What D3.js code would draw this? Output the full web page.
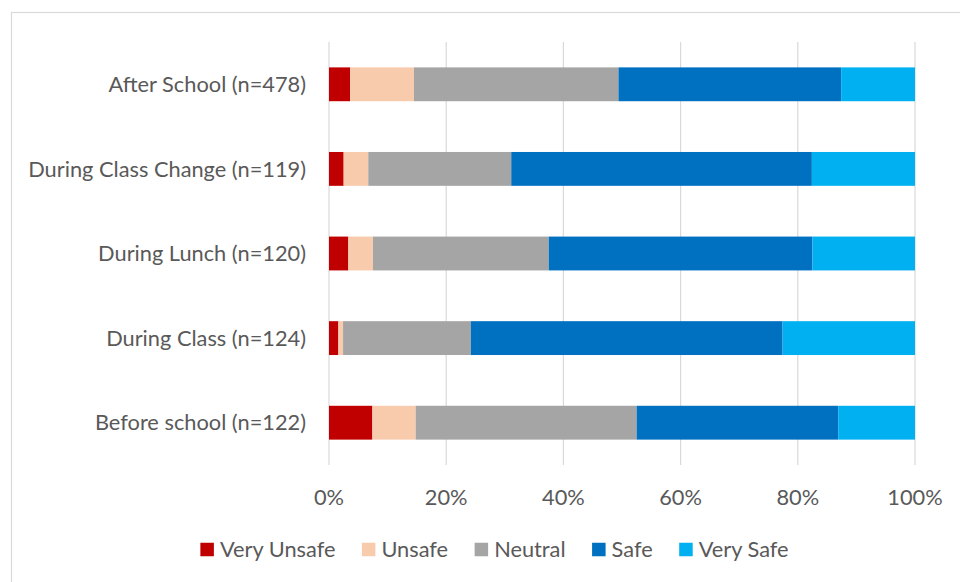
<!DOCTYPE html>
<html>
<head>
<meta charset="utf-8">
<script src="https://cdn.jsdelivr.net/npm/d3@7"></script>
<style>
  body { margin: 0; background: #fff; }
  text { font-family: Lato, "Open Sans", sans-serif; fill: #595959; }
</style>
</head>
<body>
<svg id="chart"></svg>
<script>
// categories, top to bottom
const categories = [
  'After School (n=478)',
  'During Class Change (n=119)',
  'During Lunch (n=120)',
  'During Class (n=124)',
  'Before school (n=122)'
];

const seriesNames = ['Very Unsafe', 'Unsafe', 'Neutral', 'Safe', 'Very Safe'];

// percent of respondents, same order as categories
const veryUnsafe = [3.6, 2.5, 3.3, 1.6, 7.4];
const unsafe     = [10.9, 4.2, 4.2, 0.8, 7.4];
const neutral    = [34.9, 24.4, 30.0, 21.8, 37.7];
const safe       = [38.0, 51.3, 45.0, 53.2, 34.4];
const verySafe   = [12.6, 17.6, 17.5, 22.6, 13.1];

const seriesColors = ['#c00000', '#f8cbad', '#a5a5a5', '#0070c0', '#00b0f0'];
const tickValues = [0, 20, 40, 60, 80, 100];

const config = {
  w: 960,
  h: 582,
  margin: {top: 42, right: 45, bottom: 117, left: 329}
};

function createChart({w, h, margin}) {
  const svg = d3.select('#chart')
    .attr('width', w)
    .attr('height', h);

  // fit the font so that the longest label spans like in the picture
  const probe = svg.append('text').style('font-size', '24px').text(categories[1]);
  const fontSize = 24 * 278 / probe.node().getComputedTextLength();
  probe.remove();

  // chart border (only top and left show, the rest is cropped)
  svg.append('rect')
    .attr('x', 11.5)
    .attr('y', 12.5)
    .attr('width', 1000)
    .attr('height', 1000)
    .style('fill', 'none')
    .style('stroke', '#d9d9d9')
    .style('stroke-width', 1.2);

  const table = categories.map((c, i) => ({
    category: c,
    'Very Unsafe': veryUnsafe[i],
    'Unsafe': unsafe[i],
    'Neutral': neutral[i],
    'Safe': safe[i],
    'Very Safe': verySafe[i]
  }));

  const x = d3.scaleLinear()
    .domain([0, 100])
    .range([margin.left, w - margin.right]);

  const y = d3.scaleBand()
    .domain(categories)
    .range([margin.top, h - margin.bottom])
    .paddingInner(0.6)
    .paddingOuter(0.3);

  const color = d3.scaleOrdinal()
    .domain(seriesNames)
    .range(seriesColors);

  // gridlines
  svg.append('g')
    .selectAll('line')
    .data(tickValues)
    .join('line')
    .attr('x1', d => x(d))
    .attr('x2', d => x(d))
    .attr('y1', margin.top)
    .attr('y2', h - margin.bottom)
    .style('stroke', '#d9d9d9')
    .style('stroke-width', 1.2);

  const stacked = d3.stack().keys(seriesNames)(table);

  svg.append('g')
    .selectAll('g')
    .data(stacked)
    .join('g')
    .style('fill', d => color(d.key))
    .selectAll('rect')
    .data(d => d)
    .join('rect')
    .attr('x', d => x(d[0]))
    .attr('y', d => y(d.data.category))
    .attr('width', d => x(d[1]) - x(d[0]))
    .attr('height', y.bandwidth());

  // category labels
  svg.append('g')
    .selectAll('text')
    .data(categories)
    .join('text')
    .attr('x', margin.left - 23)
    .attr('y', d => y(d) + y.bandwidth() / 2)
    .attr('dy', '0.35em')
    .attr('text-anchor', 'end')
    .style('font-size', fontSize + 'px')
    .text(d => d);

  // x tick labels
  svg.append('g')
    .selectAll('text')
    .data(tickValues)
    .join('text')
    .attr('x', d => x(d))
    .attr('y', h - margin.bottom + 32)
    .attr('dy', '0.35em')
    .attr('text-anchor', 'middle')
    .style('font-size', fontSize + 'px')
    .text(d => d + '%');

  // legend
  const legend = svg.append('g');
  const items = legend.selectAll('g')
    .data(seriesNames)
    .join('g');

  items.append('rect')
    .attr('width', 13.5)
    .attr('height', 13.5)
    .attr('y', -6.75)
    .style('fill', d => color(d));

  items.append('text')
    .attr('x', 19.5)
    .attr('dy', '0.35em')
    .style('font-size', fontSize + 'px')
    .text(d => d);

  let offset = 0;
  items.each(function () {
    const g = d3.select(this);
    g.attr('transform', `translate(${offset},0)`);
    offset += 19.5 + g.select('text').node().getComputedTextLength() + 26.5;
  });
  const legendWidth = offset - 26.5;
  legend.attr('transform', `translate(${494.5 - legendWidth / 2}, 549.5)`);
}

createChart(config);
</script>
</body>
</html>
